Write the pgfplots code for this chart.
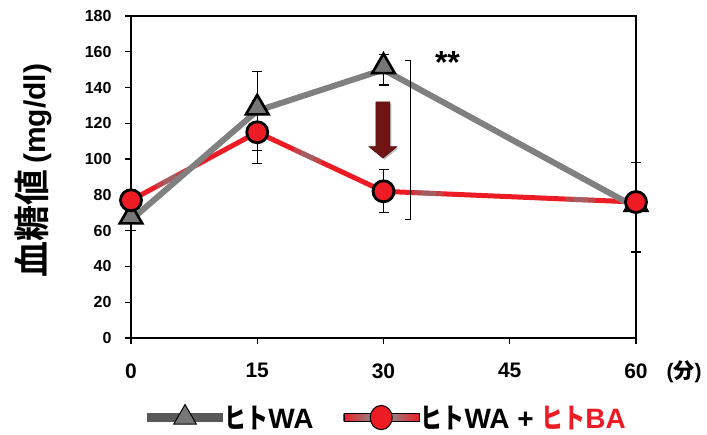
\documentclass[border=0pt]{standalone}
\usepackage{pgfplots}
\pgfplotsset{compat=1.18}
\usepackage{fontspec}
\setmainfont{Liberation Sans}
\newfontfamily\cjk{Noto Sans CJK JP Bold}
\newfontfamily\cjkn{Noto Sans CJK JP Bold}[FakeStretch=0.78]
\definecolor{gline}{RGB}{128,128,128}
\definecolor{gfill}{RGB}{118,118,118}
\definecolor{rfill}{RGB}{237,28,36}
\definecolor{darr}{RGB}{112,20,20}
\definecolor{lgray}{RGB}{88,88,88}
\pgfplotstableread{
x y e
0 66 6
15 127 22
30 150 8.6
60 73 25
}\wa
\pgfplotstableread{
x y e
0 77 3
15 115 17.5
30 82 12
60 76 3
}\waba
\begin{document}
\begin{tikzpicture}
\begin{axis}[
  at={(131pt,96pt)}, anchor=south west,
  scale only axis, width=505pt, height=322pt,
  xmin=0, xmax=60, ymin=0, ymax=180,
  xtick={0,15,30,45,60}, ytick={0,20,...,180},
  xtick pos=bottom, ytick pos=left, tick align=outside,
  major tick length=6pt,
  every tick/.style={black, line width=1.3pt},
  axis line style={line width=1.3pt},
  /pgf/number format/assume math mode=true,
  yticklabel style={font=\fontsize{16}{16}\selectfont\bfseries, xshift=-10pt},
  xticklabel style={font=\fontsize{21}{21}\selectfont\bfseries, yshift=-16pt},
  clip=false,
  legend columns=2,
  legend style={draw=none, fill=none, at={(0.508,-0.247)}, anchor=center,
    font=\fontsize{28}{28}\selectfont\bfseries,
    nodes={inner xsep=2pt, inner ysep=1pt},
    /tikz/every even column/.append style={column sep=28pt}},
  legend cell align=left,
]
% thicker left and bottom axis lines
\draw[line width=2.6pt] (rel axis cs:0,1) -- (rel axis cs:0,0) -- (rel axis cs:1,0);
% red line with soft grey patches
\addplot[rfill, line width=5pt, forget plot] table[x=x,y=y] {\waba};
\addplot[gline, opacity=0.4, line width=5pt, forget plot,
  dash pattern=on 0pt off 29pt on 30pt off 125pt on 30pt off 99pt on 30pt off 122pt on 30pt off 300pt]
  table[x=x,y=y] {\waba};
\addplot[gline, opacity=0.45, line width=5pt, forget plot,
  dash pattern=on 0pt off 37pt on 14pt off 141pt on 14pt off 115pt on 14pt off 138pt on 14pt off 300pt]
  table[x=x,y=y] {\waba};
% grey line
\addplot[gline, line width=6pt, forget plot] table[x=x,y=y] {\wa};
% error bars
\addplot[only marks, mark=none, forget plot, black,
  error bars/.cd, y dir=both, y explicit,
  error bar style={line width=1.3pt, black},
  error mark options={rotate=90, mark size=5pt, line width=1.3pt, black}]
  table[x=x,y=y,y error=e] {\wa};
\addplot[only marks, mark=none, forget plot, black,
  error bars/.cd, y dir=both, y explicit,
  error bar style={line width=1.3pt, black},
  error mark options={rotate=90, mark size=5pt, line width=1.3pt, black}]
  table[x=x,y=y,y error=e] {\waba};
% markers
\addplot[only marks, forget plot, mark=triangle*, mark size=13pt,
  mark options={fill=gfill, draw=black, line width=2.6pt, yshift=3pt}]
  table[x=x,y=y] {\wa};
\addplot[only marks, forget plot, mark=*, mark size=10.5pt,
  mark options={fill=rfill, draw=black, line width=2.8pt}]
  table[x=x,y=y] {\waba};
% arrow
\fill[black!45, opacity=0.6, xshift=1.5pt, yshift=-1.5pt]
  (axis cs:29.1,132) -- (axis cs:30.75,132) -- (axis cs:30.75,107) -- (axis cs:31.6,107)
  -- (axis cs:29.93,100.6) -- (axis cs:28.26,107) -- (axis cs:29.1,107) -- cycle;
\fill[darr, draw=darr!70!black, line width=0.6pt]
  (axis cs:29.1,132) -- (axis cs:30.75,132) -- (axis cs:30.75,107) -- (axis cs:31.6,107)
  -- (axis cs:29.93,100.6) -- (axis cs:28.26,107) -- (axis cs:29.1,107) -- cycle;
% bracket
\draw[line width=1pt] (axis cs:32.5,155.4) -- (axis cs:33.15,155.4) -- (axis cs:33.15,66.5) -- (axis cs:32.5,66.5);
\node[font=\fontsize{32}{32}\selectfont\bfseries] at (axis cs:37.6,154) {**};
% legend
\addlegendimage{legend image code/.code={
  \fill[lgray] (0pt,-4pt) rectangle (75pt,4pt);
  \path plot[mark=triangle*, mark size=13pt, mark options={fill=gfill, draw=black, line width=1pt}] coordinates {(37.5pt,0pt)};
}}
\addlegendentry{{\cjkn ヒト}WA}
\addlegendimage{legend image code/.code={
  \shade[left color=rfill, right color=gray!90] (0pt,-4pt) rectangle (30pt,4pt);
  \shade[left color=gray!90, right color=rfill] (45pt,-4pt) rectangle (75pt,4pt);
  \path plot[mark=*, mark size=11pt, mark options={fill=rfill, draw=black, line width=1pt, yscale=1.1}] coordinates {(37.5pt,0pt)};
}}
\addlegendentry{{\cjkn ヒト}WA + \textcolor{rfill}{{\cjkn ヒト}BA}}
\end{axis}
\node[rotate=90] at (33pt,263pt) {{\cjk\fontsize{36}{36}\selectfont 血糖値}\hspace{6pt}{\fontsize{30}{30}\selectfont\bfseries (mg/dl)}};
\node[anchor=west, font=\fontsize{21}{21}\selectfont\bfseries] at (663pt,62pt) {({\cjk 分})};
\pgfresetboundingbox
\useasboundingbox (0,0) rectangle (707pt,434pt);
\end{tikzpicture}
\end{document}
